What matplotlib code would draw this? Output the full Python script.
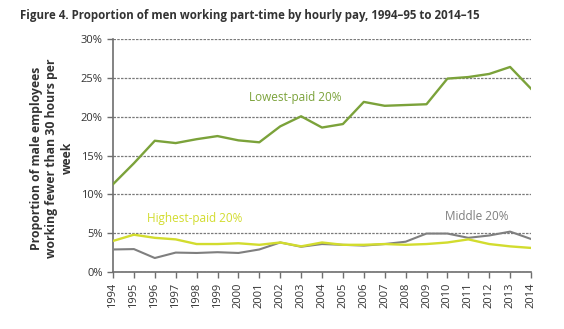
import matplotlib
matplotlib.use("Agg")
import matplotlib.pyplot as plt
from matplotlib.ticker import FuncFormatter

years = list(range(1994, 2015))
lowest_paid = [11.3, 14.0, 16.9, 16.6, 17.1, 17.5, 16.95, 16.7, 18.75, 20.05, 18.6,
               19.05, 21.9, 21.4, 21.5, 21.6, 24.9, 25.1, 25.5, 26.4, 23.6]
middle = [2.9, 2.95, 1.8, 2.5, 2.45, 2.55, 2.45, 2.9, 3.8, 3.25, 3.6,
          3.5, 3.4, 3.6, 3.9, 4.95, 4.95, 4.4, 4.7, 5.2, 4.25]
highest_paid = [4.0, 4.8, 4.4, 4.2, 3.6, 3.6, 3.7, 3.5, 3.8, 3.3, 3.8,
                3.5, 3.5, 3.6, 3.5, 3.6, 3.8, 4.2, 3.6, 3.3, 3.1]

plt.rcParams["font.family"] = ["Open Sans", "DejaVu Sans"]

GREEN = "#7ba23a"
YELLOW = "#d2dc2e"
GREY = "#7f7f7f"
TEXT = "#333333"

fig = plt.figure(figsize=(5.64, 3.29), dpi=100)
ax = fig.add_axes([113 / 564, 1 - 272 / 329, (531 - 113) / 564, (272 - 39) / 329])

ax.plot(years, lowest_paid, color=GREEN, lw=1.7, zorder=3)
ax.plot(years, middle, color=GREY, lw=1.5, zorder=3)
ax.plot(years, highest_paid, color=YELLOW, lw=1.7, zorder=4)

ax.set_xlim(1994, 2014)
ax.set_ylim(0, 30)
ax.set_yticks(range(0, 31, 5))
ax.yaxis.set_major_formatter(FuncFormatter(lambda v, p: f"{int(v)}%"))
ax.set_xticks(years)
ax.set_xticklabels([str(y) for y in years], rotation=90)

ax.grid(axis="y", color="#7a7a7a", linestyle=(0, (2, 1)), lw=0.9, zorder=1)
for s in ["top", "right"]:
    ax.spines[s].set_visible(False)
for s in ["left", "bottom"]:
    ax.spines[s].set_color("#6e6e6e")
    ax.spines[s].set_linewidth(1.2)
ax.tick_params(axis="both", colors="#6e6e6e", labelcolor=TEXT, labelsize=8,
               length=4, width=1)

ax.text(2002.7, 22.5, "Lowest-paid 20%", color=GREEN, fontsize=8.5, ha="center", va="center")
ax.text(1997.9, 6.95, "Highest-paid 20%", color=YELLOW, fontsize=8.5, ha="center", va="center")
ax.text(2011.4, 7.2, "Middle 20%", color=GREY, fontsize=8.5, ha="center", va="center")

fig.text(52 / 564, 1 - 158 / 329,
         "Proportion of male employees\nworking fewer than 30 hours per\nweek",
         rotation=90, ha="center", va="center", fontsize=8.8, fontweight="bold",
         color=TEXT, linespacing=1.25)

fig.text(20 / 564, 1 - 16 / 329,
         "Figure 4. Proportion of men working part-time by hourly pay, 1994\u201395 to 2014\u201315",
         ha="left", va="center", fontsize=8.3, fontweight="bold", color=TEXT)

fig.savefig("out.png", dpi=100, facecolor="white")
